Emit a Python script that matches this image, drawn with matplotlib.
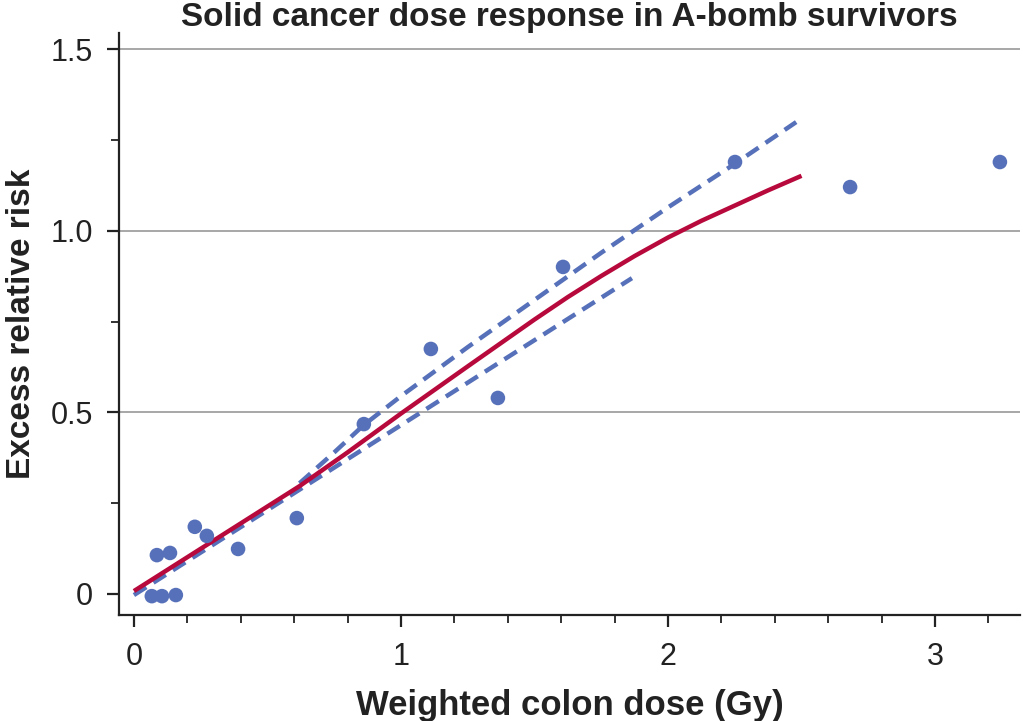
import matplotlib.pyplot as plt
from matplotlib.ticker import MultipleLocator, FixedLocator

plt.rcParams['font.family'] = ['Liberation Sans', 'DejaVu Sans']

# observed points (dose in Gy, excess relative risk)
dose = [0.067, 0.105, 0.157, 0.086, 0.135, 0.228, 0.273, 0.39, 0.61,
        0.861, 1.112, 1.363, 1.607, 2.251, 2.682, 3.243]
err = [-0.006, -0.006, -0.003, 0.107, 0.113, 0.185, 0.160, 0.124, 0.209,
       0.468, 0.675, 0.540, 0.901, 1.190, 1.121, 1.190]

# smoothed fit (red)
fit_x = [0.0, 0.62, 0.8, 1.0, 1.25, 1.5, 1.625, 1.75, 1.875, 2.0,
         2.125, 2.25, 2.375, 2.5]
fit_y = [0.008, 0.297, 0.39, 0.497, 0.627, 0.756, 0.818, 0.876, 0.931, 0.982,
         1.028, 1.07, 1.112, 1.152]

# lower dashed line
low_x = [0.0, 1.865]
low_y = [-0.003, 0.87]

# upper dashed line
up_x = [0.62, 0.75, 0.86, 1.0, 1.25, 1.5, 1.75, 2.0, 2.25, 2.48]
up_y = [0.305, 0.39, 0.465, 0.545, 0.68, 0.81, 0.94, 1.065, 1.185, 1.30]

blue = '#5670b9'
red = '#b7093c'

fig = plt.figure(figsize=(10.23, 7.21), dpi=100)
ax = fig.add_axes([0.1163, 0.147, 0.8807, 0.807])

for yv in [0.5, 1.0, 1.5]:
    ax.axhline(yv, color='#a0a0a0', lw=1.3, zorder=0)

ax.plot(low_x, low_y, color=blue, lw=3.2, dashes=(3.3, 1.9), zorder=2)
ax.plot(up_x, up_y, color=blue, lw=3.2, dashes=(3.3, 1.9), zorder=2)
ax.plot(fit_x, fit_y, color=red, lw=3.2, zorder=3, solid_capstyle='butt',
        solid_joinstyle='round')
ax.scatter(dose, err, s=110, color=blue, edgecolors='none', zorder=4)

ax.set_xlim(-0.056, 3.318)
ax.set_ylim(-0.058, 1.545)

ax.xaxis.set_major_locator(FixedLocator([0, 1, 2, 3]))
ax.xaxis.set_minor_locator(MultipleLocator(0.2))
ax.yaxis.set_major_locator(FixedLocator([0, 0.5, 1.0, 1.5]))
ax.yaxis.set_minor_locator(MultipleLocator(0.25))
ax.set_xticklabels(['0', '1', '2', '3'])
ax.set_yticklabels(['0', '0.5', '1.0', '1.5'])

ax.spines['top'].set_visible(False)
ax.spines['right'].set_visible(False)
ax.spines['left'].set_linewidth(1.6)
ax.spines['bottom'].set_linewidth(1.6)
ax.spines['left'].set_color('#222222')
ax.spines['bottom'].set_color('#222222')

ax.tick_params(which='major', length=8.5, width=1.6, labelsize=22, color='#222222',
               labelcolor='#222222')
ax.tick_params(which='minor', length=5.5, width=1.3, color='#222222')
ax.tick_params(axis='y', which='major', pad=10)
ax.tick_params(axis='x', which='major', pad=11)

ax.set_title("Solid cancer dose response in A-bomb survivors", fontsize=24,
             fontweight='bold', color='#222222', pad=4)
ax.set_xlabel("Weighted colon dose (Gy)", fontsize=25, fontweight='bold',
              color='#222222', labelpad=12)
ax.set_ylabel("Excess relative risk", fontsize=24, fontweight='bold',
              color='#222222', labelpad=10)

plt.savefig('out.png', dpi=100)
